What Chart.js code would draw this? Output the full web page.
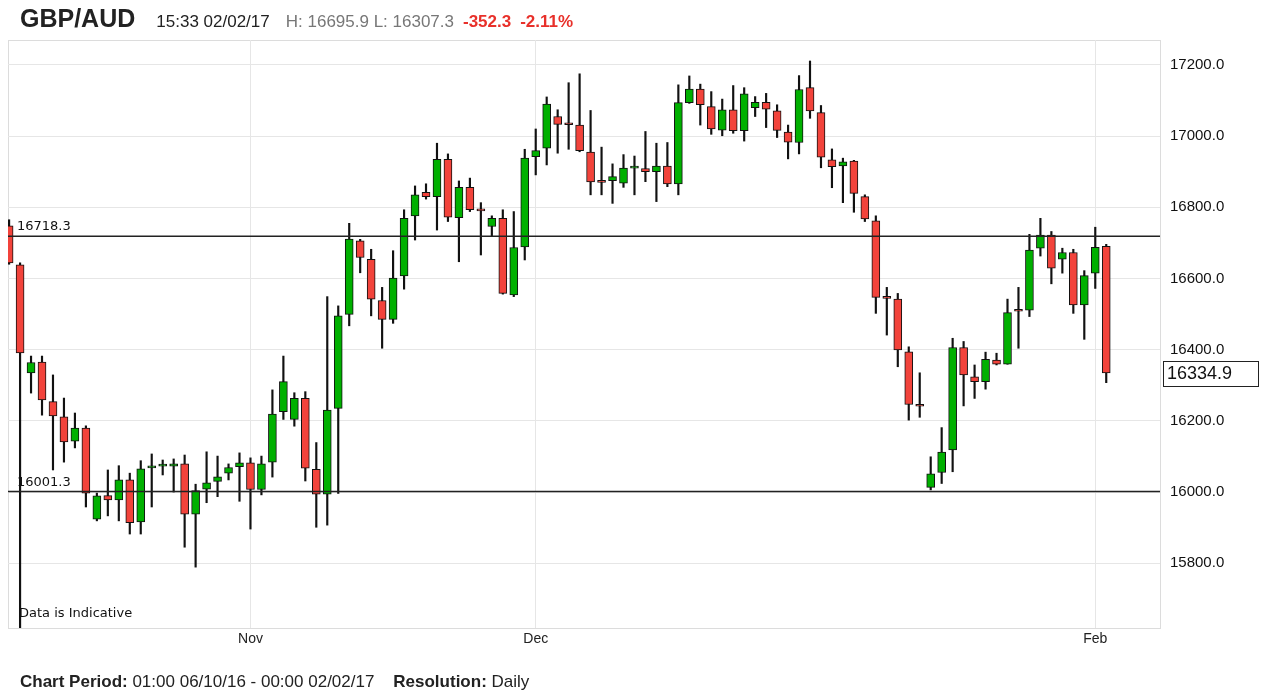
<!DOCTYPE html>
<html>
<head>
<meta charset="utf-8">
<script src="https://cdn.jsdelivr.net/npm/chart.js@4.4.1/dist/chart.umd.min.js"></script>
<style>
  body { margin: 0; background: #fff; font-family: "Liberation Sans", Arial, sans-serif; }
  #wrap { position: absolute; left: 0; top: 0; width: 1267px; height: 697px; }
  #head { position: absolute; left: 20px; top: 3px; line-height: 30px; white-space: nowrap; color: #222; }
  #head .pair { font-size: 25px; font-weight: bold; color: #222; margin-right: 21px; }
  #head .time { font-size: 17px; color: #222; margin-right: 16px; }
  #head .hl { font-size: 17px; color: #777; margin-right: 9px; }
  #head .chg { font-size: 17px; color: #e8302a; font-weight: bold; margin-right: 9px; }
  #foot { position: absolute; left: 20px; top: 672px; line-height: 20px; font-size: 17px; color: #222; white-space: nowrap; }
  #foot b { font-weight: bold; }
</style>
</head>
<body>
<div id="wrap"><canvas id="grafico"></canvas></div>
<div id="head"><span class="pair">GBP/AUD</span><span class="time">15:33 02/02/17</span><span class="hl">H: 16695.9 L: 16307.3</span><span class="chg">-352.3</span><span class="chg">-2.11%</span></div>
<div id="foot"><b>Chart Period:</b> 01:00 06/10/16 - 00:00 02/02/17 &nbsp;&nbsp;&nbsp;<b>Resolution:</b> Daily</div>
<script>
// dias de cotizacion (DD/MM), del 06/10/16 al 02/02/17
var fechas = [
	"06/10","07/10","09/10","10/10","11/10","12/10","13/10","14/10","16/10","17/10","18/10","19/10","20/10","21/10","23/10","24/10","25/10","26/10","27/10","28/10","30/10","31/10",
	"01/11","02/11","03/11","04/11","06/11","07/11","08/11","09/11","10/11","11/11","13/11","14/11","15/11","16/11","17/11","18/11","20/11","21/11","22/11","23/11","24/11","25/11","27/11","28/11","29/11","30/11",
	"01/12","02/12","04/12","05/12","06/12","07/12","08/12","09/12","11/12","12/12","13/12","14/12","15/12","16/12","18/12","19/12","20/12","21/12","22/12","23/12","26/12","27/12","28/12","29/12","30/12",
	"02/01","03/01","04/01","05/01","06/01","08/01","09/01","10/01","11/01","12/01","13/01","15/01","16/01","17/01","18/01","19/01","20/01","22/01","23/01","24/01","25/01","26/01","27/01","29/01","30/01","31/01",
	"01/02","02/02"
];

var apertura = [
	16748,16638,16335,16365,16254,16211,16143,16180,15924,15990,15978,16034,15916,16068,16073,16073,16079,15938,16008,16030,16053,16071,
	16082,16007,16084,16226,16204,16263,16064,15994,16235,16499,16706,16654,16538,16485,16607,16776,16842,16830,16935,16771,16856,16792,16746,16769,16554,16689,
	16942,16966,17055,17034,17031,16955,16872,16875,16868,16910,16909,16900,16916,16866,17094,17132,17083,17017,17074,17015,17080,17095,17071,17011,16982,
	17136,17066,16933,16916,16930,16830,16762,16546,16542,16394,16243,16013,16055,16118,16406,16324,16310,16371,16359,16510,16511,16685,16722,16654,16673,16526,
	16615,16690
];
var maximo = [
	16765,16644,16382,16382,16329,16264,16222,16186,15997,16062,16074,16053,16088,16107,16090,16093,16104,16022,16113,16101,16079,16110,
	16096,16101,16287,16382,16279,16282,16139,16549,16523,16755,16710,16682,16575,16678,16793,16860,16866,16980,16950,16874,16882,16813,16776,16793,16788,16963,
	17020,17110,17074,17150,17175,17072,16969,16922,16948,16944,17013,16980,16982,17144,17169,17146,17125,17104,17142,17136,17111,17120,17088,17031,17170,
	17211,17086,16964,16938,16932,16835,16776,16575,16558,16408,16335,16099,16181,16432,16423,16357,16393,16390,16542,16575,16724,16769,16732,16685,16682,16622,
	16744,16695.9
];
var minimo = [
	16640,15600,16278,16216,16062,16084,16124,15958,15919,15933,15919,15882,15882,15958,16048,16000,15845,15789,15970,15987,16034,15974,
	15896,15992,16042,16204,16185,16031,15901,15907,15996,16467,16616,16495,16404,16474,16570,16708,16823,16736,16760,16647,16788,16666,16718,16556,16549,16652,
	16891,16919,16952,16963,16956,16835,16835,16811,16856,16835,16872,16816,16858,16835,17092,17031,17005,17001,17008,16986,17055,17024,16996,16936,16950,
	17050,16911,16855,16813,16786,16760,16502,16441,16352,16202,16210,16006,16024,16057,16242,16263,16289,16357,16359,16404,16493,16663,16585,16615,16502,16429,
	16572,16307.3
];
var cierre = [
	16644,16391,16364,16259,16214,16141,16180,15997,15989,15978,16034,15914,16065,16071,16075,16079,15938,16004,16026,16043,16069,16082,
	16007,16079,16219,16310,16263,16067,15994,16230,16495,16711,16659,16542,16485,16601,16769,16835,16830,16935,16772,16856,16793,16790,16769,16558,16687,16938,
	16959,17090,17033,17032,16959,16871,16870,16886,16910,16912,16900,16916,16866,17094,17132,17088,17020,17074,17015,17119,17095,17076,17016,16983,17131,
	17071,16941,16914,16928,16839,16767,16547,16544,16399,16246,16241,16051,16112,16406,16329,16310,16373,16359,16504,16508,16680,16722,16629,16673,16526,16608,
	16687.2,16334.9
];

var etiquetasMes = ["Nov", "Dec", "Feb"];
var numeroMes = ["11", "12", "02"];
var ticksPrecio = [15800, 16000, 16200, 16400, 16600, 16800, 17000, 17200];
var niveles = [16718.3, 16001.3];

var VERDE = "#00b000";
var ROJO = "#f2433b";

var posicionesMes = numeroMes.map(function(m) {
	return fechas.findIndex(function(f) { return f.split("/")[1] === m; });
});

var mechas = fechas.map(function(f, i) { return { x: i, y: [minimo[i], maximo[i]] }; });
var cuerpos = fechas.map(function(f, i) { return { x: i, y: [apertura[i], cierre[i]] }; });
var coloresCuerpo = fechas.map(function(f, i) { return cierre[i] >= apertura[i] ? VERDE : ROJO; });

var X_MIN = -0.1, X_MAX = 104.9;
var Y_MIN = 15618, Y_MAX = 17270;

var datasetsNiveles = niveles.map(function(v) {
	return {
		type: "line",
		data: [{ x: X_MIN, y: v }, { x: X_MAX, y: v }],
		borderColor: "#222",
		borderWidth: 1.5,
		pointRadius: 0,
		order: 0
	};
});

var extras = {
	id: "extras",
	beforeDraw: function(chart) {
		var a = chart.chartArea, ctx = chart.ctx;
		ctx.save();
		ctx.strokeStyle = "#dcdcdc";
		ctx.lineWidth = 1;
		ctx.strokeRect(a.left + 0.5, a.top + 0.5, a.right - a.left, a.bottom - a.top);
		ctx.restore();
	},
	afterDraw: function(chart) {
		var a = chart.chartArea, ctx = chart.ctx, y = chart.scales.y;
		ctx.save();
		ctx.fillStyle = "#111";
		ctx.font = "13px 'DejaVu Sans'";
		ctx.textBaseline = "alphabetic";
		niveles.forEach(function(v) {
			ctx.fillText(v.toFixed(1), a.left + 9, y.getPixelForValue(v) - 6);
		});
		ctx.fillText("Data is Indicative", a.left + 11, a.bottom - 11);

		// caja con el ultimo precio
		var ultimo = cierre[cierre.length - 1];
		var py = Math.round(y.getPixelForValue(ultimo));
		ctx.fillStyle = "#fff";
		ctx.fillRect(a.right + 3, py - 12, 95, 25);
		ctx.strokeStyle = "#222";
		ctx.lineWidth = 1;
		ctx.strokeRect(a.right + 3.5, py - 11.5, 95, 25);
		ctx.fillStyle = "#111";
		ctx.font = "18px 'Liberation Sans'";
		ctx.textBaseline = "middle";
		ctx.fillText(ultimo.toFixed(1), a.right + 7, py + 1);
		ctx.restore();
	}
};

var ctx = document.getElementById("grafico").getContext("2d");
new Chart(ctx, {
	type: "bar",
	data: {
		datasets: [{
			data: mechas,
			backgroundColor: "#111",
			borderWidth: 0,
			barThickness: 1.5,
			grouped: false,
			order: 2
		}, {
			data: cuerpos,
			backgroundColor: coloresCuerpo,
			borderColor: "#111",
			borderWidth: 1,
			borderSkipped: false,
			barThickness: 8,
			minBarLength: 2,
			grouped: false,
			order: 1
		}].concat(datasetsNiveles)
	},
	options: {
		responsive: true,
		maintainAspectRatio: false,
		animation: false,
		layout: { padding: { left: 8, top: 40, right: 0, bottom: 0 } },
		plugins: { legend: { display: false }, tooltip: { enabled: false } },
		scales: {
			x: {
				type: "linear",
				min: X_MIN,
				max: X_MAX,
				offset: false,
				afterBuildTicks: function(scale) {
					scale.ticks = posicionesMes.map(function(p) { return { value: p }; });
				},
				afterFit: function(scale) { scale.height = 69; },
				grid: { color: "#e6e6e6", drawTicks: false, offset: false },
				border: { color: "#dcdcdc" },
				ticks: {
					padding: 3,
					maxRotation: 0,
					autoSkip: false,
					color: "#222",
					font: { family: "Liberation Sans", size: 14 },
					callback: function(v) { return etiquetasMes[posicionesMes.indexOf(v)]; }
				}
			},
			y: {
				position: "right",
				min: Y_MIN,
				max: Y_MAX,
				afterBuildTicks: function(scale) {
					scale.ticks = ticksPrecio.map(function(v) { return { value: v }; });
				},
				afterFit: function(scale) { scale.width = 107; },
				grid: { color: "#e6e6e6", drawTicks: false },
				border: { color: "#dcdcdc" },
				ticks: {
					padding: 10,
					color: "#111",
					font: { family: "Liberation Sans", size: 15 },
					callback: function(v) { return v.toFixed(1); }
				}
			}
		}
	},
	plugins: [extras]
});
</script>
</body>
</html>
